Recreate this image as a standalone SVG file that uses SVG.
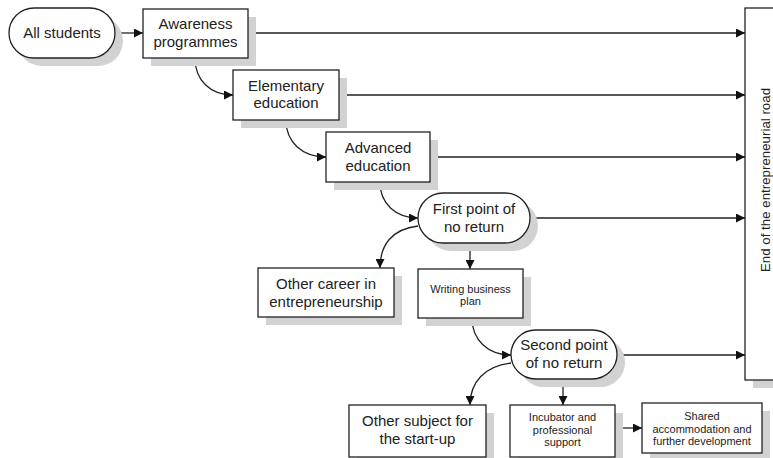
<svg xmlns="http://www.w3.org/2000/svg" width="773" height="458" viewBox="0 0 773 458">
<style>
.sh{fill:#d2d2d2;stroke:none}
.bx{fill:#fff;stroke:#222;stroke-width:1.3}
.t{font-family:"Liberation Sans",Arial,sans-serif;font-size:15px;fill:#222;text-anchor:middle}
.s{font-family:"Liberation Sans",Arial,sans-serif;font-size:11px;fill:#222;text-anchor:middle}
.c{fill:none;stroke:#222;stroke-width:1.3;marker-end:url(#ah)}
</style>
<defs>
<marker id="ah" viewBox="0 0 10 10" refX="10" refY="5" markerWidth="11" markerHeight="9" markerUnits="userSpaceOnUse" orient="auto">
<path d="M0,0 L10,5 L0,10 z" fill="#111"/>
</marker>
</defs>
<g id="connectors">
<path class="c" d="M115,33 L143,33"/>
<path class="c" d="M248,33 L745,33"/>
<path class="c" d="M339,95 L745,95"/>
<path class="c" d="M430,157 L745,157"/>
<path class="c" d="M530,218 L745,218"/>
<path class="c" d="M617,355 L745,355"/>
<path class="c" d="M195,58 C195,80 210,95 233,95"/>
<path class="c" d="M286,120 C286,142 302,157 326,157"/>
<path class="c" d="M380,182 C380,204 396,218 418,218"/>
<path class="c" d="M418,226 C392,229 380,245 380,268"/>
<path class="c" d="M470,243 L470,269"/>
<path class="c" d="M472,318 C472,340 488,355 511,355"/>
<path class="c" d="M511,363 C485,366 470,382 470,405"/>
<path class="c" d="M563,379 L563,405"/>
<path class="c" d="M615,428 L642,428"/>
</g>
<g id="all-students">
<rect class="sh" x="17" y="16" width="106" height="50" rx="25"/>
<rect class="bx" x="9" y="8" width="106" height="50" rx="25"/>
<text class="t" x="62" y="38">All students</text>
</g>
<g id="awareness">
<rect class="sh" x="151" y="17" width="105" height="49"/>
<rect class="bx" x="143" y="9" width="105" height="49"/>
<text class="t" x="195.5" y="29">Awareness</text>
<text class="t" x="195.5" y="47">programmes</text>
</g>
<g id="elementary">
<rect class="sh" x="241" y="78" width="106" height="50"/>
<rect class="bx" x="233" y="70" width="106" height="50"/>
<text class="t" x="286" y="91">Elementary</text>
<text class="t" x="286" y="108">education</text>
</g>
<g id="advanced">
<rect class="sh" x="334" y="140" width="104" height="50"/>
<rect class="bx" x="326" y="132" width="104" height="50"/>
<text class="t" x="378" y="153">Advanced</text>
<text class="t" x="378" y="171">education</text>
</g>
<g id="first-point">
<rect class="sh" x="426" y="201" width="112" height="50" rx="25"/>
<rect class="bx" x="418" y="193" width="112" height="50" rx="25"/>
<text class="t" x="474" y="214">First point of</text>
<text class="t" x="474" y="232">no return</text>
</g>
<g id="other-career">
<rect class="sh" x="266" y="276" width="136" height="49"/>
<rect class="bx" x="258" y="268" width="136" height="49"/>
<text class="t" x="326" y="289">Other career in</text>
<text class="t" x="326" y="307">entrepreneurship</text>
</g>
<g id="writing">
<rect class="sh" x="426" y="277" width="105" height="49"/>
<rect class="bx" x="418" y="269" width="105" height="49"/>
<text class="s" x="470.5" y="293">Writing business</text>
<text class="s" x="470.5" y="305">plan</text>
</g>
<g id="second-point">
<rect class="sh" x="519" y="338" width="106" height="49" rx="24.5"/>
<rect class="bx" x="511" y="330" width="106" height="49" rx="24.5"/>
<text class="t" x="564" y="350">Second point</text>
<text class="t" x="564" y="368">of no return</text>
</g>
<g id="other-subject">
<rect class="sh" x="357" y="413" width="137" height="52"/>
<rect class="bx" x="349" y="405" width="137" height="52"/>
<text class="t" x="417.5" y="426">Other subject for</text>
<text class="t" x="417.5" y="444">the start-up</text>
</g>
<g id="incubator">
<rect class="sh" x="518" y="413" width="105" height="52"/>
<rect class="bx" x="510" y="405" width="105" height="52"/>
<text class="s" x="562.5" y="421">Incubator and</text>
<text class="s" x="562.5" y="433.5">professional</text>
<text class="s" x="562.5" y="446">support</text>
</g>
<g id="shared">
<rect class="sh" x="650" y="411" width="120" height="50"/>
<rect class="bx" x="642" y="403" width="120" height="50"/>
<text class="s" x="702" y="420">Shared</text>
<text class="s" x="702" y="432.5">accommodation and</text>
<text class="s" x="702" y="445">further development</text>
</g>
<g id="end-road">
<rect class="sh" x="753" y="16" width="40" height="372"/>
<rect class="bx" x="745" y="8" width="40" height="372"/>
<text class="t" transform="translate(765,180) rotate(-90)" x="0" y="0" dy="5" style="font-size:13.3px">End of the entrepreneurial road</text>
</g>
</svg>
